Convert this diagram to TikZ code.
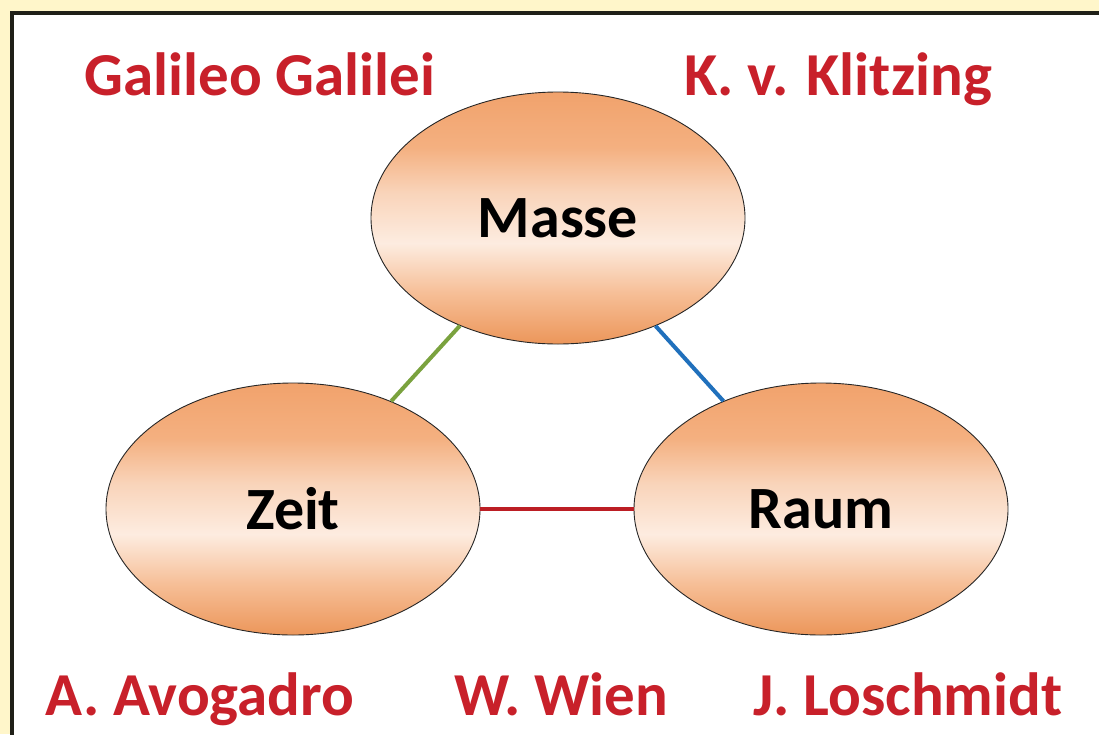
\documentclass[tikz,border=0pt]{standalone}
\usepackage{fontspec}
\setmainfont{Carlito}
\usetikzlibrary{shapes.geometric}
\definecolor{bgyel}{RGB}{255,246,202}
\definecolor{frame}{RGB}{32,32,24}
\definecolor{namered}{RGB}{200,32,42}
\definecolor{lgreen}{RGB}{122,162,62}
\definecolor{lblue}{RGB}{32,112,188}
\definecolor{lred}{RGB}{188,30,36}
\definecolor{ob}{RGB}{236,150,90}
\definecolor{oq}{RGB}{246,190,150}
\definecolor{om}{RGB}{253,236,224}
\definecolor{or}{RGB}{249,212,186}
\definecolor{os}{RGB}{244,176,128}
\definecolor{ot}{RGB}{241,162,108}
\pgfdeclareverticalshading{orb}{100bp}{color(0bp)=(ob); color(25bp)=(ob); color(35bp)=(oq); color(45bp)=(om); color(55bp)=(or); color(64bp)=(os); color(75bp)=(ot); color(100bp)=(ot)}
\tikzset{
  orbnode/.style={ellipse, draw=black!85, line width=0.9pt, shading=orb,
    minimum width=374pt, minimum height=252pt, inner sep=0pt,
    font=\fontsize{60}{66}\selectfont\bfseries, text=black},
  namelabel/.style={anchor=base, inner sep=0pt, text=namered,
    font=\fontsize{61}{68}\selectfont\bfseries},
  link/.style={line width=4pt}
}
\begin{document}
\begin{tikzpicture}[x=1pt,y=-1pt]
\useasboundingbox (0,0) rectangle (1099,734);
\fill[bgyel] (0,0) rectangle (1099,734);
\filldraw[fill=white, draw=frame, line width=4pt] (12,13) rectangle (1112,748);
\node[orbnode] (masse) at (558,218) {Masse};
\node[orbnode] (zeit) at (293,509) {Zeit};
\node[orbnode] (raum) at (821,509) {Raum};
\draw[link, lgreen] (masse) -- (zeit);
\draw[link, lblue] (masse) -- (raum);
\draw[link, lred] (zeit) -- (raum);
\node[namelabel] (galilei) at (260,95) {Galileo Galilei};
\node[namelabel] (klitzing) at (838,95) {K. v. Klitzing};
\node[namelabel] (avogadro) at (200,715) {A. Avogadro};
\node[namelabel] (wien) at (561,715) {W. Wien};
\node[namelabel] (loschmidt) at (908,715) {J. Loschmidt};
\end{tikzpicture}
\end{document}
